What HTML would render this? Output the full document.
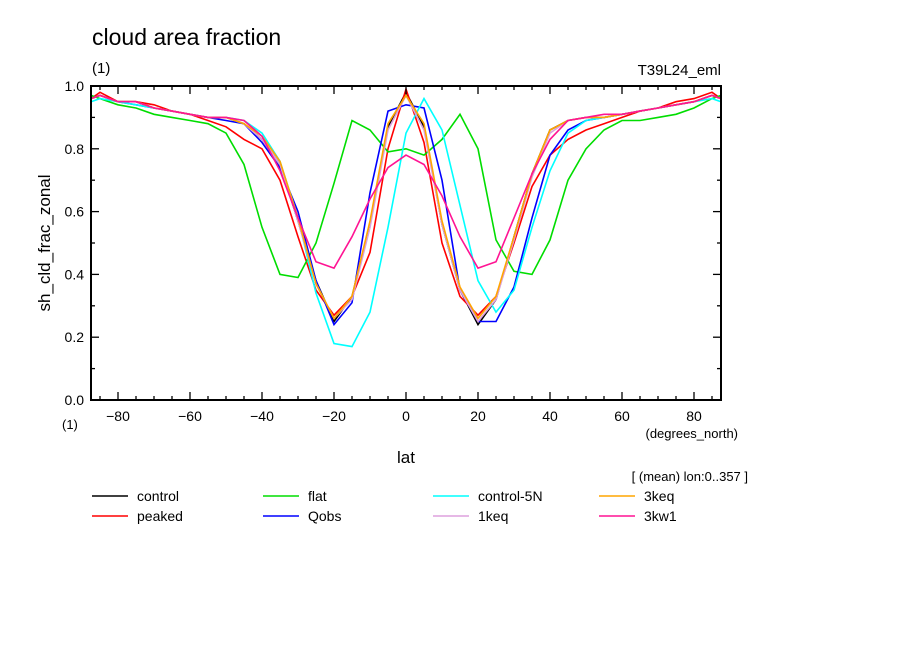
<!DOCTYPE html>
<html><head><meta charset="utf-8"><style>
body{margin:0;background:#fff;}
svg text{font-family:"Liberation Sans","DejaVu Sans",sans-serif;fill:#000;}
</style></head><body>
<svg id="chart" width="904" height="654" xmlns="http://www.w3.org/2000/svg">
<text x="92" y="45" font-size="23">cloud area fraction</text>
<text x="92" y="73" font-size="15">(1)</text>
<text x="721" y="75" font-size="15" text-anchor="end">T39L24_eml</text>
<text transform="translate(50,243) rotate(-90)" font-size="17" text-anchor="middle">sh_cld_frac_zonal</text>
<text x="406" y="463" font-size="17" text-anchor="middle">lat</text>
<text x="738" y="438" font-size="13" text-anchor="end">(degrees_north)</text>
<text x="62" y="429" font-size="13">(1)</text>
<text x="748" y="481" font-size="13" text-anchor="end">[ (mean) lon:0..357 ]</text>
<g id="plot"></g>
<g id="legend"></g>
</svg>
<script>
const lats=[-87.5,-85,-80,-75,-70,-65,-60,-55,-50,-45,-40,-35,-30,-25,-20,-15,-10,-5,0,5,10,15,20,25,30,35,40,45,50,55,60,65,70,75,80,85,87.5];
const seriesNames=["control","peaked","flat","Qobs","control-5N","1keq","3keq","3kw1"];
const seriesColors=["#000000","#ff0000","#00dd00","#0000ff","#00ffff","#dda0dd","#ffa500","#ff1493"];
const control=[0.96,0.97,0.95,0.95,0.93,0.92,0.91,0.90,0.90,0.88,0.83,0.75,0.57,0.38,0.25,0.33,0.56,0.87,0.98,0.87,0.56,0.35,0.24,0.32,0.52,0.72,0.86,0.89,0.90,0.90,0.91,0.92,0.93,0.94,0.95,0.97,0.96];
const peaked=[0.96,0.98,0.95,0.95,0.94,0.92,0.91,0.89,0.87,0.83,0.80,0.70,0.52,0.35,0.27,0.33,0.47,0.80,0.99,0.82,0.50,0.33,0.27,0.33,0.50,0.68,0.78,0.83,0.86,0.88,0.90,0.92,0.93,0.95,0.96,0.98,0.96];
const flat=[0.97,0.96,0.94,0.93,0.91,0.90,0.89,0.88,0.85,0.75,0.55,0.40,0.39,0.50,0.69,0.89,0.86,0.79,0.80,0.78,0.83,0.91,0.80,0.51,0.41,0.40,0.51,0.70,0.80,0.86,0.89,0.89,0.90,0.91,0.93,0.96,0.97];
const qobs=[0.96,0.97,0.95,0.94,0.93,0.92,0.91,0.90,0.89,0.88,0.82,0.74,0.60,0.38,0.24,0.31,0.66,0.92,0.94,0.93,0.70,0.35,0.25,0.25,0.36,0.58,0.78,0.86,0.89,0.90,0.91,0.92,0.93,0.94,0.95,0.97,0.96];
const control5n=[0.95,0.96,0.95,0.94,0.93,0.92,0.91,0.90,0.90,0.89,0.85,0.76,0.58,0.34,0.18,0.17,0.28,0.55,0.85,0.96,0.86,0.62,0.38,0.28,0.35,0.55,0.73,0.85,0.89,0.90,0.91,0.92,0.93,0.94,0.95,0.96,0.95];
const keq1=[0.96,0.97,0.95,0.95,0.93,0.92,0.91,0.90,0.90,0.88,0.83,0.75,0.57,0.37,0.26,0.32,0.55,0.86,0.97,0.86,0.56,0.35,0.25,0.32,0.51,0.71,0.85,0.89,0.90,0.90,0.91,0.92,0.93,0.94,0.95,0.97,0.96];
const keq3=[0.96,0.97,0.95,0.95,0.93,0.92,0.91,0.90,0.90,0.88,0.84,0.76,0.58,0.37,0.26,0.33,0.57,0.88,0.97,0.88,0.57,0.36,0.26,0.33,0.52,0.72,0.86,0.89,0.90,0.90,0.91,0.92,0.93,0.94,0.95,0.97,0.96];
const kw1=[0.96,0.97,0.95,0.95,0.93,0.92,0.91,0.90,0.90,0.89,0.84,0.73,0.58,0.44,0.42,0.52,0.64,0.74,0.78,0.75,0.65,0.52,0.42,0.44,0.58,0.72,0.83,0.89,0.90,0.91,0.91,0.92,0.93,0.94,0.95,0.97,0.96];
const seriesData=[control,peaked,flat,qobs,control5n,keq1,keq3,kw1];
const xTicks=[-80,-60,-40,-20,0,20,40,60,80];
const yTicks=[0,0.2,0.4,0.6,0.8,1.0];

const NS="http://www.w3.org/2000/svg";
const L=91,R=721,T=86,B=400;
const xs=v=>406+v*3.6;
const ys=v=>B-(v/1.0)*(B-T);
const plot=document.getElementById('plot');
function mk(tag,attrs,parent){const e=document.createElementNS(NS,tag);for(const k in attrs)e.setAttribute(k,attrs[k]);parent.appendChild(e);return e;}

// series
seriesData.forEach((d,i)=>{
  const p=mk('polyline',{points:d.map((v,j)=>xs(lats[j]).toFixed(1)+','+ys(v).toFixed(1)).join(' '),fill:'none',stroke:seriesColors[i],'stroke-width':1.6},plot);
  
  
});
// frame
const fr=mk('rect',{x:L,y:T,width:R-L,height:B-T,fill:'none',stroke:'#000','stroke-width':2},plot);


// x ticks
for(let v=-85;v<=85;v+=5){
  const major=v%20===0, len=major?8:4;
  mk('line',{x1:xs(v),x2:xs(v),y1:B,y2:B-len,stroke:'#000','stroke-width':1.3},plot);
  mk('line',{x1:xs(v),x2:xs(v),y1:T,y2:T+len,stroke:'#000','stroke-width':1.3},plot);
}
xTicks.forEach(v=>{
  const t=mk('text',{x:xs(v),y:B+21,'font-size':14,'text-anchor':'middle'},plot);
  t.textContent=String(v).replace('-','\u2212');
  
  
});
for(let k=0;k<=10;k++){
  const v=k/10,major=k%2===0,len=major?8:4;
  mk('line',{x1:L,x2:L+len,y1:ys(v),y2:ys(v),stroke:'#000','stroke-width':1.3},plot);
  mk('line',{x1:R,x2:R-len,y1:ys(v),y2:ys(v),stroke:'#000','stroke-width':1.3},plot);
}
yTicks.forEach(v=>{
  const t=mk('text',{x:84,y:ys(v)+5,'font-size':14,'text-anchor':'end'},plot);
  t.textContent=v.toFixed(1);
  
  
});
// legend
const lg=document.getElementById('legend');
const colX=[92,263,433,599];
seriesNames.forEach((n,i)=>{
  const c=Math.floor(i/2),r=i%2;
  const x=colX[c],y=496+r*20;
  const g=mk('g',{},lg);
  
  
  mk('line',{x1:x,x2:x+36,y1:y,y2:y,stroke:seriesColors[i],'stroke-width':1.6},g);
  const t=mk('text',{x:x+45,y:y+5,'font-size':14},g);
  t.textContent=n;
});
</script>
</body></html>
